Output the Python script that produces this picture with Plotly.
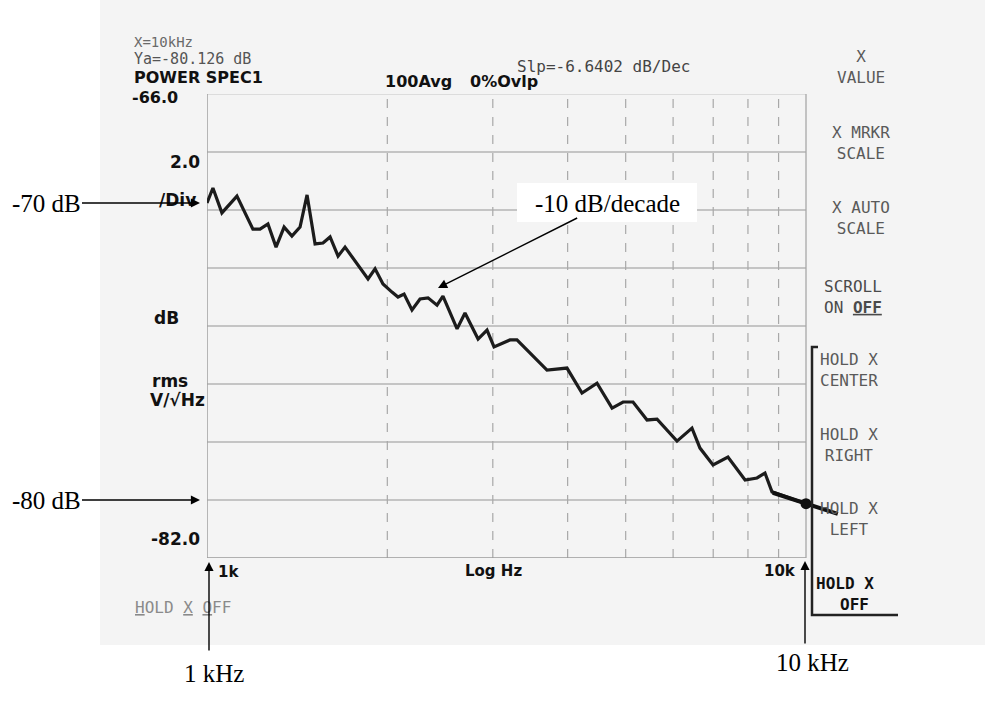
import plotly.graph_objects as go

# ---------------- data ----------------
freq_hz = [1000, 1023, 1059, 1122, 1193, 1226, 1264, 1304, 1345, 1386, 1430, 1469,
           1515, 1562, 1605, 1655, 1700, 1780, 1857, 1908, 1967, 2036, 2084, 2133,
           2199, 2268, 2339, 2421, 2477, 2615, 2696, 2835, 2934, 3014, 3205, 3292,
           3461, 3695, 3990, 4227, 4478, 4745, 4950, 5143, 5428, 5641, 6090, 6451,
           6653, 6995, 7408, 7912, 8284, 8541, 8775, 9331, 10000]
level_db = [-69.76, -69.24, -70.10, -69.52, -70.66, -70.66, -70.48, -71.28, -70.59,
            -70.90, -70.59, -69.48, -71.17, -71.14, -70.93, -71.59, -71.28, -71.83,
            -72.38, -72.03, -72.55, -72.83, -73.00, -72.90, -73.45, -73.07, -73.03,
            -73.28, -72.97, -74.10, -73.55, -74.45, -74.14, -74.72, -74.48, -74.48,
            -74.93, -75.52, -75.45, -76.31, -75.97, -76.83, -76.62, -76.62, -77.24,
            -77.21, -77.97, -77.52, -78.21, -78.79, -78.52, -79.31, -79.24, -79.07,
            -79.72, -79.90, -80.13]

marker_hz = [10000]
marker_db = [-80.126]
slope_hz = [8800, 11300]
slope_db = [-79.75, -80.48]

y_top, y_bottom = -66.0, -82.0
grid_db = [-68, -70, -72, -74, -76, -78, -80]
grid_hz = [2000, 3000, 4000, 5000, 6000, 7000, 8000, 9000]
f_start, f_stop = 1000, 10000

# ---------------- layout geometry ----------------
W, H = 985, 708
PL, PR, PT, PB = 207, 840, 94, 558
X_DECADE_PX = 599.0


def fx(p):
    return (p - PL) / (PR - PL)


def fy(p):
    return (PB - p) / (PB - PT)


MONO = "DejaVu Sans Mono"
SANS = "DejaVu Sans"
SERIF = "Liberation Serif"

fig = go.Figure()

fig.add_trace(go.Scatter(x=freq_hz, y=level_db, mode="lines",
                         line=dict(color="#1c1c1c", width=3.2), hoverinfo="skip"))
fig.add_trace(go.Scatter(x=slope_hz, y=slope_db, mode="lines",
                         line=dict(color="#111111", width=4), hoverinfo="skip"))
fig.add_trace(go.Scatter(x=marker_hz, y=marker_db, mode="markers",
                         marker=dict(color="#111111", size=11), hoverinfo="skip"))

shapes = []
# screen background
shapes.append(dict(type="rect", xref="paper", yref="paper", x0=fx(100), x1=fx(W),
                   y0=fy(645), y1=fy(0), fillcolor="#f4f4f4", line=dict(width=0),
                   layer="below"))
# horizontal grid
for g in grid_db:
    shapes.append(dict(type="line", xref="x", yref="y", x0=f_start, x1=f_stop, y0=g, y1=g,
                       line=dict(color="#b4b4b4", width=1.3), layer="below"))
# vertical dashed grid
for g in grid_hz:
    shapes.append(dict(type="line", xref="x", yref="y", x0=g, x1=g, y0=y_bottom, y1=y_top,
                       line=dict(color="#a8a8a8", width=1.2, dash="dash"), layer="below"))
# frame
shapes.append(dict(type="line", xref="x", yref="y", x0=f_start, x1=f_stop, y0=y_top, y1=y_top,
                   line=dict(color="#c4c4c4", width=1.2), layer="below"))
shapes.append(dict(type="line", xref="x", yref="y", x0=f_start, x1=f_stop, y0=y_bottom, y1=y_bottom,
                   line=dict(color="#9a9a9a", width=1.5), layer="below"))
shapes.append(dict(type="line", xref="x", yref="y", x0=f_start, x1=f_start, y0=y_bottom, y1=y_top,
                   line=dict(color="#a0a0a0", width=1.5), layer="below"))
shapes.append(dict(type="line", xref="x", yref="y", x0=f_stop, x1=f_stop, y0=y_bottom, y1=y_top,
                   line=dict(color="#a8a8a8", width=1.3), layer="below"))
# softkey bracket
shapes.append(dict(type="path", xref="paper", yref="paper",
                   path="M {a},{b} L {c},{b} L {c},{d} L {e},{d}".format(
                       a=fx(818), b=fy(347), c=fx(812), d=fy(615), e=fx(898)),
                   line=dict(color="#222222", width=2.5)))
# white label box behind "-10 dB/decade"
shapes.append(dict(type="rect", xref="paper", yref="paper", x0=fx(517), x1=fx(697),
                   y0=fy(222), y1=fy(183), fillcolor="#ffffff", line=dict(width=0)))

ann = []


def txt(s, x, y, size=17, color="#555555", family=MONO, weight=400, xanchor="left"):
    ann.append(dict(text=s, x=fx(x), y=fy(y), xref="paper", yref="paper", showarrow=False,
                    xanchor=xanchor, yanchor="middle",
                    font=dict(family=family, size=size, color=color, weight=weight)))


BOLD = dict(family=SANS, size=16, color="#111111", weight=700)

# top header
txt("X=10kHz", 132, 42, size=14, color="#6a6a6a")
txt("Ya=-80.126 dB", 132, 59, size=15, color="#555555")
txt("POWER SPEC1", 132, 78, **BOLD)
txt("-66.0", 130, 97, **BOLD)
txt("Slp=-6.6402 dB/Dec", 515, 66, size=16, color="#444444")
txt("100Avg", 383, 81, **BOLD)
txt("0%Ovlp", 468, 81, **BOLD)

# left axis labels
txt("2.0", 202, 162, xanchor="right", **dict(BOLD, size=17))
txt("/Div", 198, 200, xanchor="right", **dict(BOLD, size=17))
txt("dB", 152, 318, **dict(BOLD, size=17))
txt("rms", 150, 381, **dict(BOLD, size=17))
txt("V/√Hz", 148, 400, **dict(BOLD, size=17))
txt("-82.0", 202, 539, xanchor="right", **dict(BOLD, size=17))

# bottom axis labels
txt("1k", 216, 572, **dict(BOLD, size=15))
txt("Log Hz", 463, 571, **dict(BOLD, size=15))
txt("10k", 762, 571, **dict(BOLD, size=15))
txt("<u>H</u>OLD <u>X</u> <u>O</u>FF", 133, 607, size=16, color="#8a8a8a")

# softkeys
txt("X<br>VALUE", 861, 67, size=16, color="#5a5a5a", xanchor="center")
txt("X MRKR<br>SCALE", 861, 143, size=16, color="#5a5a5a", xanchor="center")
txt("X AUTO<br>SCALE", 861, 218, size=16, color="#5a5a5a", xanchor="center")
txt("SCROLL<br>ON <b><u>OFF</u></b>", 822, 297, size=16, color="#4a4a4a")
txt("HOLD X<br>CENTER", 818, 370, size=16, color="#5a5a5a")
txt("HOLD X<br>RIGHT", 818, 445, size=16, color="#5a5a5a")
txt("HOLD X<br>LEFT", 818, 519, size=16, color="#5a5a5a")
txt("<b>HOLD X<br>  OFF</b>", 814, 594, size=16, color="#111111")

# serif annotations with arrows
SER = dict(family=SERIF, size=25, color="#000000")
ARW = dict(arrowhead=2, arrowsize=1.3, arrowwidth=1.4, arrowcolor="#000000", showarrow=True,
           xref="paper", yref="paper", axref="pixel", ayref="pixel")

ann.append(dict(text="-70 dB", x=fx(200), y=fy(203), ax=46 - 200, ay=0, font=SER, **ARW))
ann.append(dict(text="-80 dB", x=fx(200), y=fy(500), ax=46 - 200, ay=0, font=SER, **ARW))
ann.append(dict(text="-10 dB/decade", x=fx(438), y=fy(288), ax=607 - 438, ay=203 - 288,
                font=SER, **ARW))
ann.append(dict(text="", x=fx(209), y=fy(562), ax=0, ay=652 - 562, **ARW))
ann.append(dict(text="", x=fx(805), y=fy(561), ax=0, ay=645 - 561, **ARW))
txt("1 kHz", 214, 673, xanchor="center", **SER)
txt("10 kHz", 812, 662, xanchor="center", **SER)

fig.update_layout(
    width=W, height=H,
    margin=dict(l=PL, r=W - PR, t=PT, b=H - PB, pad=0),
    paper_bgcolor="#ffffff", plot_bgcolor="rgba(0,0,0,0)",
    showlegend=False,
    xaxis=dict(type="log", range=[3, 3 + (PR - PL) / X_DECADE_PX], visible=False, fixedrange=True),
    yaxis=dict(range=[y_bottom, y_top], visible=False, fixedrange=True),
    shapes=shapes, annotations=ann,
)

fig.write_html("out.html", config=dict(displayModeBar=False))
